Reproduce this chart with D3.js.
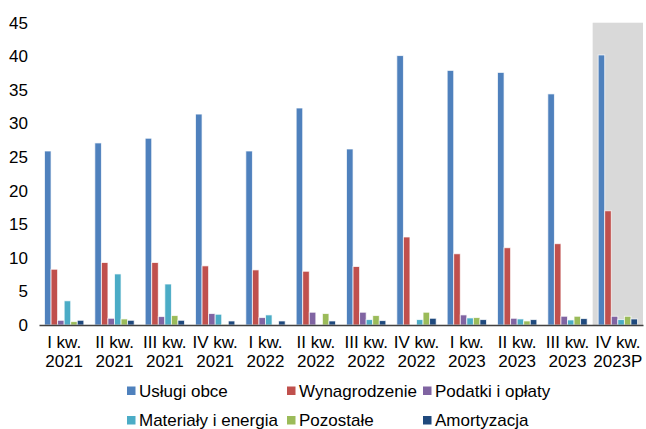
<!DOCTYPE html>
<html>
<head>
<meta charset="utf-8">
<script src="https://cdn.jsdelivr.net/npm/d3@7/dist/d3.min.js"></script>
<style>
  html, body { margin: 0; padding: 0; background: #fff; }
  svg { display: block; }
  text { font-family: "Liberation Sans", Arial, sans-serif; fill: #000; }
</style>
</head>
<body>
<svg id="chart" width="646" height="429"></svg>
<script>
const categories = ["I kw.|2021","II kw.|2021","III kw.|2021","IV kw.|2021","I kw.|2022","II kw.|2022","III kw.|2022","IV kw.|2022","I kw.|2023","II kw.|2023","III kw.|2023","IV kw.|2023P"];
const seriesNames = ["Usługi obce","Wynagrodzenie","Podatki i opłaty","Materiały i energia","Pozostałe","Amortyzacja"];
const seriesColors = ["#4F81BD","#C0504D","#8064A2","#4BACC6","#9BBB59","#1F497D"];
const uslugi       = [25.9, 27.1, 27.8, 31.4, 25.9, 32.3, 26.2, 40.1, 37.9, 37.6, 34.4, 40.2];
const wynagrodzenie= [8.3, 9.3, 9.3, 8.8, 8.2, 8.0, 8.7, 13.1, 10.6, 11.5, 12.1, 17.0];
const podatki      = [0.7, 1.0, 1.25, 1.7, 1.1, 1.9, 1.9, 0, 1.5, 1.0, 1.3, 1.3];
const materialy    = [3.6, 7.6, 6.1, 1.6, 1.5, 0, 0.8, 0.8, 1.05, 0.9, 0.75, 0.8];
const pozostale    = [0.5, 0.9, 1.4, 0.1, 0, 1.7, 1.4, 1.9, 1.1, 0.6, 1.3, 1.3];
const amortyzacja  = [0.7, 0.7, 0.7, 0.6, 0.6, 0.6, 0.65, 1.0, 0.8, 0.8, 0.95, 0.9];
const yTicks = [0,5,10,15,20,25,30,35,40,45];
const shadedCategory = "IV kw.|2023P";

const seriesValues = [uslugi, wynagrodzenie, podatki, materialy, pozostale, amortyzacja];

const svg = d3.select("#chart");
const x = d3.scaleBand().domain(categories).range([39, 643]).padding(0);
const xs = d3.scaleBand().domain(seriesNames).range([5.5, x.bandwidth() - 5.5]).padding(0);
const y = d3.scaleLinear().domain([0, 45]).range([325, 22.7]);

// shaded forecast area
svg.append("rect")
  .attr("x", x(shadedCategory)).attr("y", y(45))
  .attr("width", 643 - x(shadedCategory)).attr("height", y(0) - y(45))
  .attr("fill", "#D9D9D9");

// bars
const data = [];
categories.forEach((c, i) => seriesNames.forEach((s, j) => data.push({c, s, v: seriesValues[j][i], col: seriesColors[j]})));
svg.append("g").selectAll("rect").data(data.filter(d => d.v > 0)).join("rect")
  .attr("x", d => x(d.c) + xs(d.s))
  .attr("y", d => y(d.v))
  .attr("width", xs.bandwidth())
  .attr("height", d => y(0) - y(d.v))
  .attr("fill", d => d.col)
  .attr("stroke", "#fff").attr("stroke-width", 0.9).attr("stroke-opacity", 0.8);

// y axis
const yAxis = svg.append("g").attr("transform", "translate(28,0)")
  .call(d3.axisLeft(y).tickValues(yTicks).tickSize(0).tickPadding(0));
yAxis.select(".domain").remove();
yAxis.selectAll("text").attr("font-size", 17).attr("font-family", "Liberation Sans, Arial, sans-serif").attr("fill", "#000");

// x axis
const xAxis = svg.append("g").attr("transform", "translate(0,325)")
  .call(d3.axisBottom(x).tickSize(0).tickSizeOuter(0).tickFormat(""));
xAxis.select(".domain").attr("stroke", "#404040").attr("stroke-width", 1.5);
xAxis.selectAll(".tick").each(function(d) {
  const parts = d.split("|");
  const t = d3.select(this).append("text").attr("text-anchor", "middle")
    .attr("font-size", 17).attr("fill", "#000");
  t.append("tspan").attr("x", 0).attr("y", 23).text(parts[0]);
  t.append("tspan").attr("x", 0).attr("y", 41.5).text(parts[1]);
});

// legend
const legendCols = [127, 287, 423];
const legendRows = [396.5, 426];
const lg = svg.append("g");
seriesNames.forEach((s, i) => {
  const cx = legendCols[i % 3], by = legendRows[Math.floor(i / 3)];
  const g = lg.append("g");
  g.append("rect").attr("x", cx).attr("y", by - 10).attr("width", 8.5).attr("height", 8.5).attr("fill", seriesColors[i]);
  g.append("text").attr("x", cx + 12).attr("y", by).attr("font-size", 17).text(s);
});
</script>
</body>
</html>
